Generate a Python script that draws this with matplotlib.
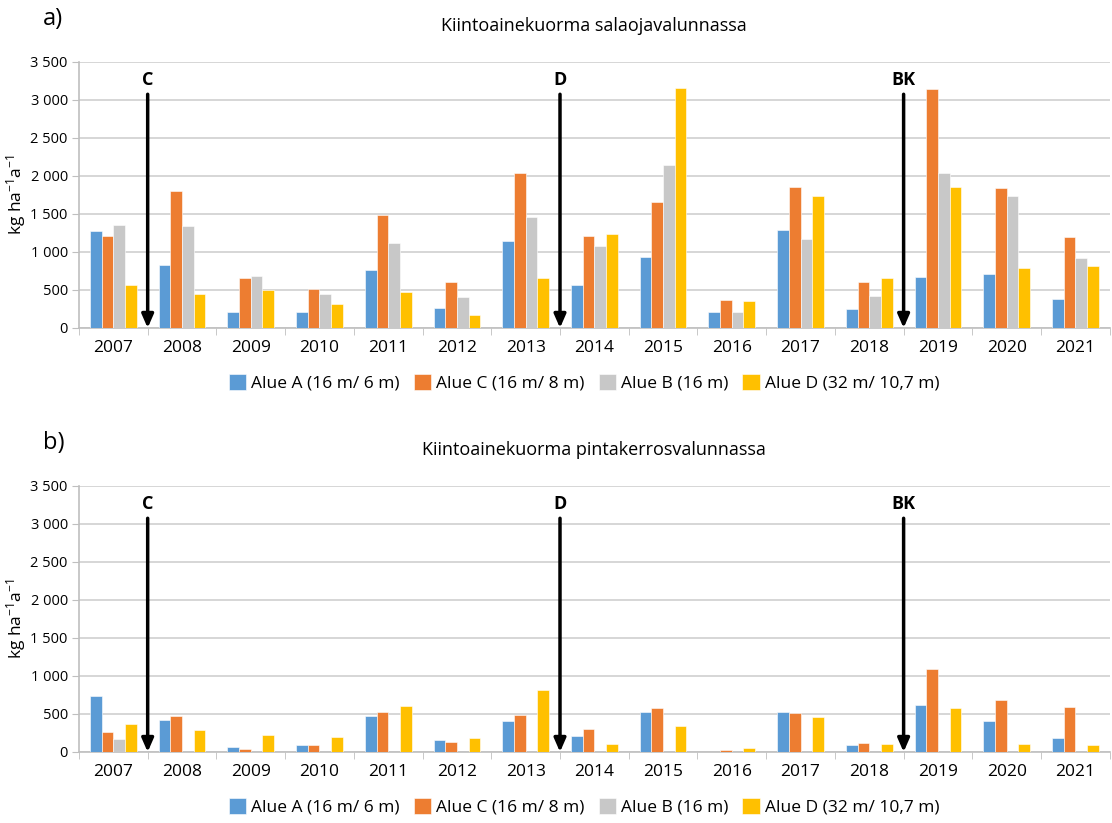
import matplotlib.pyplot as plt
from matplotlib.ticker import FuncFormatter
import numpy as np

years = ['2007', '2008', '2009', '2010', '2011', '2012', '2013', '2014',
         '2015', '2016', '2017', '2018', '2019', '2020', '2021']
series = ['Alue A (16 m/ 6 m)', 'Alue C (16 m/ 8 m)', 'Alue B (16 m)', 'Alue D (32 m/ 10,7 m)']
colors = ['#5B9BD5', '#ED7D31', '#C8C8C8', '#FFC000']

# salaojavalunta (drainage)
drain_a = [1282, 830, 215, 215, 768, 268, 1142, 562, 935, 215, 1295, 255, 667, 707, 386]
drain_c = [1212, 1796, 654, 514, 1489, 602, 2033, 1208, 1664, 373, 1858, 610, 3140, 1844, 1203]
drain_b = [1357, 1348, 689, 448, 1124, 408, 1462, 1076, 2139, 206, 1177, 426, 2042, 1739, 918]
drain_d = [566, 448, 505, 312, 479, 176, 663, 1238, 3153, 360, 1730, 663, 1858, 795, 821]

# pintakerrosvalunta (surface runoff)
surf_a = [741, 420, 65, 91, 476, 160, 407, 208, 524, 0, 520, 87, 615, 411, 182]
surf_c = [260, 476, 39, 91, 524, 134, 489, 303, 576, 30, 511, 121, 1092, 689, 589]
surf_b = [173, 0, 0, 0, 0, 0, 0, 0, 0, 0, 0, 0, 0, 0, 0]
surf_d = [368, 290, 217, 195, 611, 186, 810, 100, 347, 56, 463, 108, 580, 108, 91]

events = ['C', 'D', 'BK']
event_pos = [0.5, 6.5, 11.5]

plt.rcParams['font.family'] = ['Open Sans', 'DejaVu Sans']
plt.rcParams['mathtext.default'] = 'regular'

fig = plt.figure(figsize=(11.12, 8.23), dpi=100)
ax1 = fig.add_axes([0.071, 0.6015, 0.927, 0.3232])
ax2 = fig.add_axes([0.071, 0.0863, 0.927, 0.3232])

x = np.arange(len(years))
w = 0.17


def draw(ax, data, title, tag):
    for i, vals in enumerate(data):
        ax.bar(x + (i - 1.5) * w, vals, w, color=colors[i], label=series[i],
               edgecolor='white', linewidth=0.4, zorder=3)
    ax.set_xlim(-0.5, len(years) - 0.5)
    ax.set_ylim(0, 3500)
    ax.set_yticks(range(0, 3501, 500))
    ax.yaxis.set_major_formatter(FuncFormatter(lambda v, p: f'{int(v):,}'.replace(',', ' ')))
    ax.grid(axis='y', color='#D0D0D0', linewidth=1.2, zorder=0)
    ax.set_xticks(x)
    ax.set_xticklabels(years, fontsize=12.5)
    ax.set_xticks(np.arange(-0.5, len(years), 1), minor=True)
    ax.tick_params(axis='x', which='major', length=0, pad=9)
    ax.tick_params(axis='x', which='minor', length=5, color='#BFBFBF')
    ax.tick_params(axis='y', length=5, color='#BFBFBF', labelsize=10.5, pad=3)
    for s in ['top', 'right']:
        ax.spines[s].set_visible(False)
    for s in ['left', 'bottom']:
        ax.spines[s].set_color('#BFBFBF')
        ax.spines[s].set_linewidth(1.2)
    ax.set_ylabel('kg ha$^{-1}$a$^{-1}$', fontsize=12.5)
    ax.yaxis.set_label_coords(-0.049, 0.5)
    ax.set_title(title, fontsize=13, pad=22)
    ax.text(-0.035, 1.16, tag, transform=ax.transAxes, fontsize=17, va='center')

    for name, pos in zip(events, event_pos):
        ax.annotate('', xy=(pos, 0), xytext=(pos, 3075),
                    arrowprops=dict(arrowstyle='-|>,head_width=0.35,head_length=0.8',
                                    color='black', lw=2.5, shrinkA=0, shrinkB=0),
                    zorder=5)
        ax.text(pos, 3150, name, ha='center', va='bottom', fontsize=13,
                fontweight='bold', zorder=5)

    ax.legend(loc='upper center', bbox_to_anchor=(0.49, -0.115), ncol=4, frameon=False,
              fontsize=12.5, handlelength=1.0, handleheight=1.0, handletextpad=0.3,
              columnspacing=0.8)


draw(ax1, [drain_a, drain_c, drain_b, drain_d], 'Kiintoainekuorma salaojavalunnassa', 'a)')
draw(ax2, [surf_a, surf_c, surf_b, surf_d], 'Kiintoainekuorma pintakerrosvalunnassa', 'b)')

fig.savefig('out.png', dpi=100)
